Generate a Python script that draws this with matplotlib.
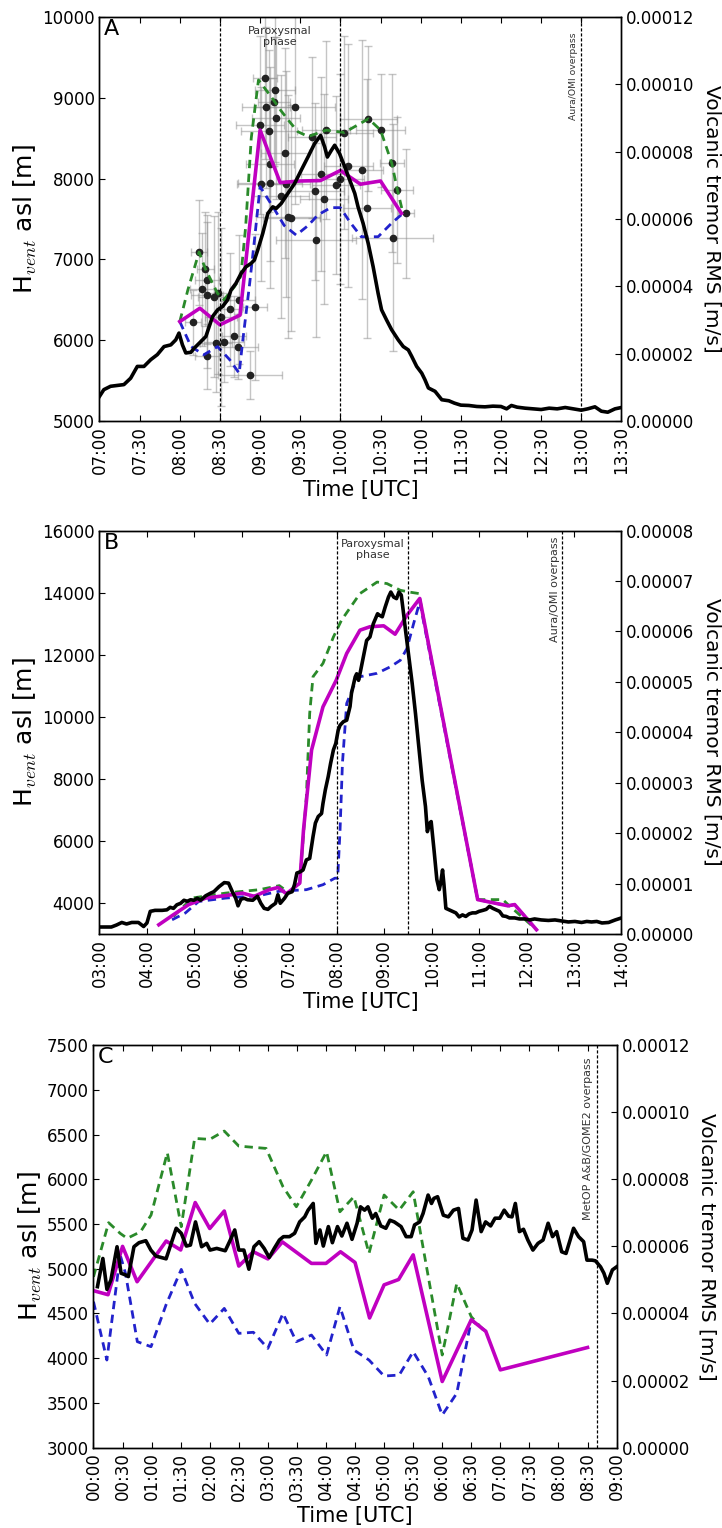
import matplotlib
matplotlib.use('Agg')
import matplotlib.pyplot as plt
from matplotlib.ticker import FixedLocator, FuncFormatter

plt.rcParams['font.family'] = ['DejaVu Sans']
plt.rcParams['mathtext.fontset'] = 'cm'
plt.rcParams['xtick.direction'] = 'in'
plt.rcParams['ytick.direction'] = 'in'
plt.rcParams['xtick.major.size'] = 4
plt.rcParams['ytick.major.size'] = 4
plt.rcParams['axes.linewidth'] = 1.0

# ---------------- Panel A data ----------------
a_trem_t = [7.0, 7.054, 7.138, 7.304, 7.388, 7.471, 7.554, 7.638, 7.72, 7.804,
            7.888, 7.95, 7.99, 8.033, 8.075, 8.138, 8.179, 8.263, 8.325, 8.367,
            8.408, 8.471, 8.533, 8.596, 8.638, 8.70, 8.763, 8.825, 8.888, 8.929,
            8.971, 9.033, 9.096, 9.158, 9.20, 9.263, 9.346, 9.429, 9.513, 9.596,
            9.679, 9.754, 9.804, 9.838, 9.888, 9.929, 9.99, 10.054, 10.117, 10.179,
            10.22, 10.283, 10.346, 10.408, 10.47, 10.513, 10.575, 10.638, 10.72, 10.783,
            10.846, 10.888, 10.95, 11.013, 11.054, 11.096, 11.179, 11.263,
            11.35, 11.42, 11.5, 11.6, 11.7, 11.8, 11.9, 12.0, 12.07, 12.13,
            12.2, 12.3, 12.4, 12.5, 12.6, 12.7, 12.8, 12.9, 13.0, 13.08,
            13.17, 13.25, 13.33, 13.42, 13.5]
a_trem_e5 = [0.73, 0.93, 1.03, 1.08, 1.27, 1.62, 1.62, 1.82, 1.97, 2.21,
             2.26, 2.41, 2.61, 2.26, 2.02, 2.04, 2.16, 2.36, 2.51, 2.81,
             3.10, 3.30, 3.40, 3.60, 3.89, 4.09, 4.38, 4.58, 4.68, 4.78,
             5.08, 5.57, 6.16, 6.36, 6.31, 6.46, 6.76, 7.05, 7.45, 7.84,
             8.24, 8.48, 8.14, 7.84, 8.04, 8.19, 7.94, 7.55, 7.15, 6.76,
             6.36, 5.87, 5.28, 4.58, 3.79, 3.30, 3.00, 2.71, 2.41, 2.21,
             2.11, 1.92, 1.62, 1.42, 1.22, 0.98, 0.88, 0.63,
             0.60, 0.53, 0.47, 0.46, 0.43, 0.42, 0.44, 0.43, 0.36, 0.46,
             0.41, 0.38, 0.36, 0.34, 0.38, 0.36, 0.40, 0.36, 0.32, 0.36,
             0.42, 0.29, 0.26, 0.36, 0.40]

a_mag_t = [8.0, 8.25, 8.5, 8.75, 9.0, 9.25, 9.5, 9.75, 10.0, 10.25, 10.5, 10.76]
a_mag_v = [6230, 6395, 6190, 6310, 8600, 7950, 7970, 7975, 8100, 7930, 7970, 7570]

a_grn_t = [8.0, 8.1, 8.24, 8.32, 8.39, 8.47, 8.55, 8.68, 8.76, 8.82, 8.89, 8.98,
           9.14, 9.26, 9.37, 9.47, 9.6, 9.825, 10.05, 10.35, 10.5, 10.64, 10.71, 10.78]
a_grn_v = [6230, 6620, 7090, 6880, 6740, 6580, 6500, 6660, 6790, 7400, 8500, 9220,
           9010, 8840, 8700, 8580, 8520, 8600, 8570, 8740, 8600, 8190, 7860, 7570]

a_blu_t = [8.0, 8.14, 8.30, 8.47, 8.62, 8.74, 8.78, 8.83, 8.87, 8.93, 9.0,
           9.16, 9.3, 9.45, 9.6, 9.72, 9.88, 10.0, 10.12, 10.26, 10.47, 10.64, 10.78]
a_blu_v = [6230, 5920, 5820, 5920, 5760, 5590, 5960, 6370, 6700, 7240, 7900,
           7650, 7420, 7300, 7420, 7550, 7640, 7640, 7460, 7280, 7280, 7450, 7570]

a_pts_t = [8.17, 8.24, 8.32, 8.34, 8.28, 8.34, 8.43, 8.47, 8.51, 8.62, 8.74, 8.94, 8.67,
           8.555, 8.45, 8.73, 8.34, 8.875, 9.06, 9.19, 9.17, 9.075, 9.43, 9.2, 9.0, 9.11,
           9.31, 9.125, 9.01, 9.12, 9.32, 9.26, 9.35, 9.39, 9.65, 9.825, 10.05, 10.35,
           10.5, 10.64, 10.71, 10.82, 10.1, 10.275, 9.76, 9.95, 10.0, 9.69, 9.8, 10.33,
           9.7, 10.65]
a_pts_v = [6220, 7090, 6880, 6750, 6630, 6560, 6540, 6580, 6290, 6380, 6500, 6410, 6050,
           5980, 5960, 5920, 5800, 5570, 9240, 9100, 8950, 8880, 8880, 8750, 8660, 8590,
           8320, 8185, 7930, 7940, 7930, 7780, 7530, 7510, 8510, 8600, 8570, 8740,
           8600, 8190, 7860, 7570, 8160, 8110, 8060, 7920, 8000, 7840, 7750, 7630,
           7240, 7270]
a_pts_xerr = [0.10, 0.10, 0.10, 0.15, 0.15, 0.20, 0.20, 0.15, 0.20, 0.15, 0.20, 0.15, 0.15,
              0.25, 0.20, 0.25, 0.15, 0.40, 0.15, 0.25, 0.20, 0.30, 0.50, 0.30, 0.30, 0.35,
              0.30, 0.30, 0.30, 0.40, 0.30, 0.35, 0.40, 0.35, 0.30, 0.30, 0.35, 0.35,
              0.30, 0.15, 0.20, 0.10, 0.30, 0.25, 0.25, 0.30, 0.30, 0.35, 0.30, 0.30,
              0.50, 0.50]
a_pts_yerr = [400, 650, 700, 800, 700, 900, 1000, 1000, 1100, 700, 800, 900, 500,
              500, 600, 400, 400, 300, 1000, 900, 800, 1000, 1200, 1000, 1100, 1000,
              1300, 1200, 1200, 1300, 1400, 1500, 1500, 1400, 1000, 1100, 1200, 900,
              700, 1100, 900, 800, 1500, 1600, 1200, 1100, 1300, 1100, 1300, 1600,
              1200, 1400]

# ---------------- Panel B data ----------------
b_trem_t = [3.01, 3.25, 3.36, 3.47, 3.57, 3.68, 3.82, 3.93, 4.00, 4.07,
            4.17, 4.32, 4.42, 4.49, 4.56, 4.63, 4.71, 4.78, 4.85, 4.92,
            4.99, 5.06, 5.13, 5.24, 5.34, 5.41, 5.52, 5.63, 5.72, 5.80,
            5.87, 5.92, 5.98, 6.05, 6.12, 6.23, 6.33, 6.40, 6.47, 6.55,
            6.62, 6.71, 6.76, 6.81, 6.90, 6.97, 7.06, 7.11, 7.16, 7.22,
            7.29, 7.36, 7.43, 7.50, 7.55, 7.61, 7.68, 7.71, 7.76, 7.82,
            7.87, 7.93, 7.98, 8.03, 8.07, 8.14, 8.21, 8.28, 8.31, 8.39,
            8.42, 8.46, 8.49, 8.56, 8.63, 8.70, 8.77, 8.86, 8.90, 8.96,
            9.02, 9.09, 9.14, 9.20, 9.26, 9.31, 9.36, 9.40, 9.45, 9.52,
            9.59, 9.66, 9.73, 9.80, 9.87, 9.91, 9.96, 9.99, 10.05, 10.11,
            10.16, 10.19, 10.23, 10.26, 10.30, 10.37, 10.44, 10.51, 10.58, 10.65,
            10.72, 10.79, 10.86, 10.93, 11.00, 11.08, 11.15, 11.22, 11.29, 11.36,
            11.43, 11.50, 11.57, 11.64, 11.75, 11.85, 11.96, 12.07, 12.17, 12.31,
            12.46, 12.60, 12.74, 12.88, 13.02, 13.16, 13.27, 13.37, 13.48, 13.59,
            13.73, 13.87, 14.0]
b_trem_e5 = [0.14, 0.14, 0.18, 0.23, 0.20, 0.23, 0.23, 0.15, 0.22, 0.45,
             0.47, 0.47, 0.48, 0.53, 0.51, 0.58, 0.61, 0.67, 0.65, 0.68,
             0.67, 0.71, 0.67, 0.76, 0.81, 0.84, 0.94, 1.02, 1.01, 0.84,
             0.71, 0.56, 0.69, 0.71, 0.68, 0.67, 0.75, 0.61, 0.51, 0.49,
             0.55, 0.61, 0.78, 0.61, 0.71, 0.81, 0.84, 0.98, 1.21, 1.23,
             1.27, 1.47, 1.50, 1.93, 2.20, 2.33, 2.39, 2.59, 2.86, 3.12,
             3.38, 3.65, 3.78, 4.04, 4.14, 4.21, 4.24, 4.51, 4.77, 5.10,
             5.16, 5.03, 5.16, 5.49, 5.82, 5.89, 6.15, 6.35, 6.32, 6.29,
             6.48, 6.68, 6.78, 6.68, 6.65, 6.78, 6.72, 6.42, 6.02, 5.49,
             4.97, 4.37, 3.71, 3.05, 2.53, 2.03, 2.20, 2.23, 1.67, 1.08,
             0.88, 1.01, 1.27, 0.98, 0.51, 0.48, 0.45, 0.42, 0.34, 0.38,
             0.35, 0.40, 0.42, 0.42, 0.45, 0.47, 0.49, 0.55, 0.51, 0.48,
             0.45, 0.36, 0.35, 0.32, 0.32, 0.30, 0.30, 0.28, 0.30, 0.28,
             0.27, 0.28, 0.26, 0.24, 0.25, 0.23, 0.25, 0.24, 0.25, 0.22,
             0.23, 0.28, 0.32]

b_mag_t = [4.25, 4.56, 4.88, 5.24, 5.66, 6.01, 6.26, 6.58, 6.76, 6.94, 7.22, 7.30,
           7.47, 7.71, 7.99, 8.21, 8.49, 8.70, 8.99, 9.23, 9.48, 9.75, 10.97, 11.61,
           11.75, 12.21]
b_mag_v = [3300, 3625, 3950, 4160, 4240, 4320, 4215, 4430, 4500, 4300, 4640, 6360,
           8930, 10320, 11180, 12040, 12790, 12900, 12930, 12660, 13270, 13810, 4110, 3910,
           3950, 3140]

b_grn_t = [4.56, 4.95, 5.66, 6.37, 6.79, 7.0, 7.22, 7.36, 7.43, 7.50, 7.71, 7.93,
           8.10, 8.49, 8.85, 9.06, 9.34, 9.52, 9.73, 10.97, 11.50, 11.61, 12.21]
b_grn_v = [3570, 4160, 4320, 4430, 4560, 4320, 4640, 7430, 10110, 11290, 11720, 12570,
           13110, 13970, 14340, 14290, 14075, 14020, 13970, 4110, 4110, 3950, 3140]

b_blu_t = [4.53, 4.81, 5.09, 5.66, 6.37, 6.79, 7.36, 7.71, 7.96, 8.02, 8.07, 8.12,
           8.21, 8.35, 8.49, 8.85, 9.13, 9.34, 9.48, 9.62, 9.75, 10.97, 11.61, 11.75, 12.21]
b_blu_v = [3460, 3680, 4050, 4160, 4240, 4380, 4430, 4590, 4800, 4800, 6360, 8500,
           10430, 10970, 11290, 11400, 11610, 11820, 12200, 13000, 13700, 4110, 3910, 3950, 3140]

# ---------------- Panel C data ----------------
c_trem_t = [0.068, 0.161, 0.231, 0.30, 0.405, 0.475, 0.55, 0.60, 0.696, 0.783,
            0.90, 0.987, 1.075, 1.249, 1.423, 1.51, 1.598, 1.668, 1.755, 1.86,
            1.947, 2.005, 2.12, 2.267, 2.354, 2.43, 2.50, 2.587, 2.674, 2.761,
            2.85, 2.936, 3.023, 3.11, 3.198, 3.268, 3.372, 3.46, 3.547, 3.634,
            3.692, 3.78, 3.826, 3.896, 3.954, 4.041, 4.11, 4.198, 4.273, 4.361,
            4.448, 4.535, 4.594, 4.664, 4.722, 4.797, 4.856, 4.943, 5.03, 5.10,
            5.175, 5.292, 5.379, 5.466, 5.524, 5.612, 5.67, 5.757, 5.815, 5.856,
            5.92, 6.019, 6.106, 6.193, 6.28, 6.356, 6.444, 6.513, 6.583, 6.67,
            6.746, 6.833, 6.909, 6.99, 7.066, 7.142, 7.2, 7.258, 7.328, 7.398,
            7.473, 7.56, 7.648, 7.735, 7.822, 7.898, 7.968, 8.055, 8.13, 8.2,
            8.26, 8.346, 8.433, 8.49, 8.578, 8.636, 8.724, 8.782, 8.84, 8.928,
            9.0]
c_trem_e5 = [4.80, 5.64, 4.72, 5.00, 5.99, 5.20, 5.15, 5.10, 5.99, 6.11,
             6.17, 5.89, 5.71, 5.63, 6.54, 6.39, 6.01, 6.04, 6.73, 5.99,
             6.09, 5.89, 5.94, 5.87, 6.19, 6.49, 5.89, 5.89, 5.32, 5.99,
             6.14, 5.94, 5.67, 5.94, 6.19, 6.29, 6.29, 6.39, 6.73, 6.88,
             7.08, 7.28, 6.09, 6.49, 6.01, 6.59, 6.11, 6.59, 6.31, 6.69,
             6.21, 6.69, 7.18, 7.08, 7.18, 6.84, 6.98, 6.61, 6.54, 6.78,
             6.73, 6.59, 6.29, 6.29, 6.64, 6.73, 6.98, 7.53, 7.28, 7.43,
             7.48, 6.93, 6.88, 7.08, 7.13, 6.24, 6.19, 6.49, 7.38, 6.44,
             6.73, 6.61, 6.84, 6.84, 7.08, 6.90, 6.88, 7.28, 6.44, 6.51,
             6.19, 5.89, 6.09, 6.19, 6.69, 6.29, 6.44, 5.84, 5.79, 6.19,
             6.54, 6.29, 6.14, 5.59, 5.59, 5.57, 5.39, 5.20, 4.90, 5.30,
             5.39]

c_mag_t = [0.0, 0.25, 0.5, 0.75, 1.25, 1.5, 1.75, 2.0, 2.25, 2.5, 2.75, 3.0, 3.25,
           3.75, 4.0, 4.25, 4.5, 4.75, 5.0, 5.25, 5.5, 6.0, 6.5, 6.75, 7.0, 8.5]
c_mag_v = [4755, 4710, 5250, 4855, 5310, 5210, 5740, 5450, 5645, 5030, 5190, 5110, 5300,
           5060, 5060, 5190, 5070, 4450, 4820, 4880, 5155, 3740, 4430, 4300, 3870, 4120]

c_grn_t = [0.0, 0.26, 0.46, 0.58, 0.81, 0.99, 1.27, 1.51, 1.74, 2.0, 2.25, 2.5, 2.97,
           3.26, 3.49, 3.75, 4.01, 4.24, 4.48, 4.74, 5.0, 5.26, 5.5, 6.0, 6.25, 6.5, 6.76]
c_grn_v = [4910, 5515, 5395, 5340, 5414, 5600, 6297, 5470, 6457, 6446, 6539, 6371, 6345,
           5917, 5693, 5991, 6308, 5637, 5805, 5172, 5824, 5656, 5861, 4036, 4837, 4464, 4278]

c_blu_t = [0.0, 0.23, 0.46, 0.55, 0.754, 0.99, 1.25, 1.51, 1.74, 2.0, 2.25, 2.5, 2.75,
           3.0, 3.26, 3.49, 3.75, 4.01, 4.24, 4.48, 4.74, 5.0, 5.26, 5.5, 5.76, 6.0, 6.25,
           6.5, 6.76]
c_blu_v = [4632, 3980, 5153, 4949, 4185, 4129, 4600, 4993, 4613, 4382, 4557, 4278, 4290,
           4110, 4501, 4185, 4259, 4036, 4576, 4092, 3980, 3801, 3812, 4073, 3794, 3365, 3608,
           4427, 4297]

# ---------------- figure ----------------
fig = plt.figure(figsize=(7.22, 15.28), dpi=100)

MAG = '#c000c0'
GRN = '#2a8a2a'
BLU = '#2222cc'
TXT = '#333333'


def hhmm(h, pos=None):
    hh = int(h + 1e-6)
    mm = int(round((h - hh) * 60))
    if mm == 60:
        hh += 1
        mm = 0
    return '%02d:%02d' % (hh, mm)


def setup(ax, ax2, xlim, xticks, ylim, yticks, rlim, rticks, letter):
    ax.set_xlim(*xlim)
    ax.set_ylim(*ylim)
    ax2.set_ylim(*rlim)
    ax.xaxis.set_major_locator(FixedLocator(xticks))
    ax.xaxis.set_major_formatter(FuncFormatter(hhmm))
    ax.yaxis.set_major_locator(FixedLocator(yticks))
    ax.yaxis.set_major_formatter(FuncFormatter(lambda v, p: '%d' % v))
    ax2.yaxis.set_major_locator(FixedLocator(rticks))
    ax2.yaxis.set_major_formatter(FuncFormatter(lambda v, p: '%.5f' % v))
    ax.tick_params(axis='x', which='major', labelsize=12, rotation=90, top=True)
    ax.tick_params(axis='y', which='major', labelsize=12, right=False)
    ax2.tick_params(axis='y', which='major', labelsize=12)
    ax.set_xlabel('Time [UTC]', fontsize=15)
    ax.set_ylabel(r'H$_{vent}$ asl [m]', fontsize=18, labelpad=2)
    ax2.set_ylabel('Volcanic tremor RMS [m/s]', fontsize=14.5, rotation=270, labelpad=19)
    ax.text(0.008, 0.995, letter, transform=ax.transAxes, fontsize=16, va='top', ha='left')


def vline(ax, x):
    ax.axvline(x, color='k', lw=0.9, ls=(0, (2.5, 1.5)), zorder=4)


# Panel A
axA = fig.add_axes([0.1378, 0.7245, 0.7229, 0.2644])
axA2 = axA.twinx()
axA.errorbar(a_pts_t, a_pts_v, xerr=a_pts_xerr, yerr=a_pts_yerr, fmt='o', ms=4.5,
             mfc='#222222', mec='#222222', ecolor=(0.55, 0.55, 0.55, 0.5),
             elinewidth=1, capsize=3, zorder=1)
axA.plot(a_grn_t, a_grn_v, color=GRN, lw=2, ls=(0, (3, 2)), zorder=2)
axA.plot(a_blu_t, a_blu_v, color=BLU, lw=2, ls=(0, (3, 2)), zorder=2)
axA.plot(a_mag_t, a_mag_v, color=MAG, lw=2.6, zorder=3)
axA2.plot(a_trem_t, [v * 1e-5 for v in a_trem_e5], color='k', lw=2.6)
for x in (8.5, 10.0, 13.0):
    vline(axA, x)
setup(axA, axA2, (7.0, 13.5), [7 + 0.5 * i for i in range(14)], (5000, 10000),
      list(range(5000, 10001, 1000)), (0, 0.00012), [i * 0.00002 for i in range(7)], 'A')
axA.text(9.25, 0.978, 'Paroxysmal\nphase', transform=axA.get_xaxis_transform(),
         ha='center', va='top', fontsize=8, color=TXT, linespacing=1.1)
axA.text(12.96, 0.963, 'Aura/OMI overpass', transform=axA.get_xaxis_transform(),
         ha='right', va='top', rotation=90, fontsize=6.7, color=TXT)

# Panel B
axB = fig.add_axes([0.1378, 0.3887, 0.7229, 0.2641])
axB2 = axB.twinx()
axB.plot(b_grn_t, b_grn_v, color=GRN, lw=2, ls=(0, (3, 2)), zorder=2)
axB.plot(b_blu_t, b_blu_v, color=BLU, lw=2, ls=(0, (3, 2)), zorder=2)
axB.plot(b_mag_t, b_mag_v, color=MAG, lw=2.6, zorder=3)
axB2.plot(b_trem_t, [v * 1e-5 for v in b_trem_e5], color='k', lw=2.6)
for x in (8.0, 9.5, 12.75):
    vline(axB, x)
setup(axB, axB2, (3.0, 14.0), list(range(3, 15)), (3000, 16000),
      list(range(4000, 16001, 2000)), (0, 0.00008), [i * 0.00001 for i in range(9)], 'B')
axB.text(8.75, 0.978, 'Paroxysmal\nphase', transform=axB.get_xaxis_transform(),
         ha='center', va='top', fontsize=8, color=TXT, linespacing=1.1)
axB.text(12.70, 0.985, 'Aura/OMI overpass', transform=axB.get_xaxis_transform(),
         ha='right', va='top', rotation=90, fontsize=8, color=TXT)

# Panel C
axC = fig.add_axes([0.1295, 0.05255, 0.7245, 0.2635])
axC2 = axC.twinx()
axC.plot(c_grn_t, c_grn_v, color=GRN, lw=2, ls=(0, (3, 2)), zorder=2)
axC.plot(c_blu_t, c_blu_v, color=BLU, lw=2, ls=(0, (3, 2)), zorder=2)
axC.plot(c_mag_t, c_mag_v, color=MAG, lw=2.6, zorder=3)
axC2.plot(c_trem_t, [v * 1e-5 for v in c_trem_e5], color='k', lw=2.6)
vline(axC, 8.667)
setup(axC, axC2, (0.0, 9.0), [0.5 * i for i in range(19)], (3000, 7500),
      list(range(3000, 7501, 500)), (0, 0.00012), [i * 0.00002 for i in range(7)], 'C')
axC.text(8.60, 0.968, 'MetOP A&B/GOME2 overpass', transform=axC.get_xaxis_transform(),
         ha='right', va='top', rotation=90, fontsize=8, color=TXT)

fig.savefig('out.png', dpi=100)
